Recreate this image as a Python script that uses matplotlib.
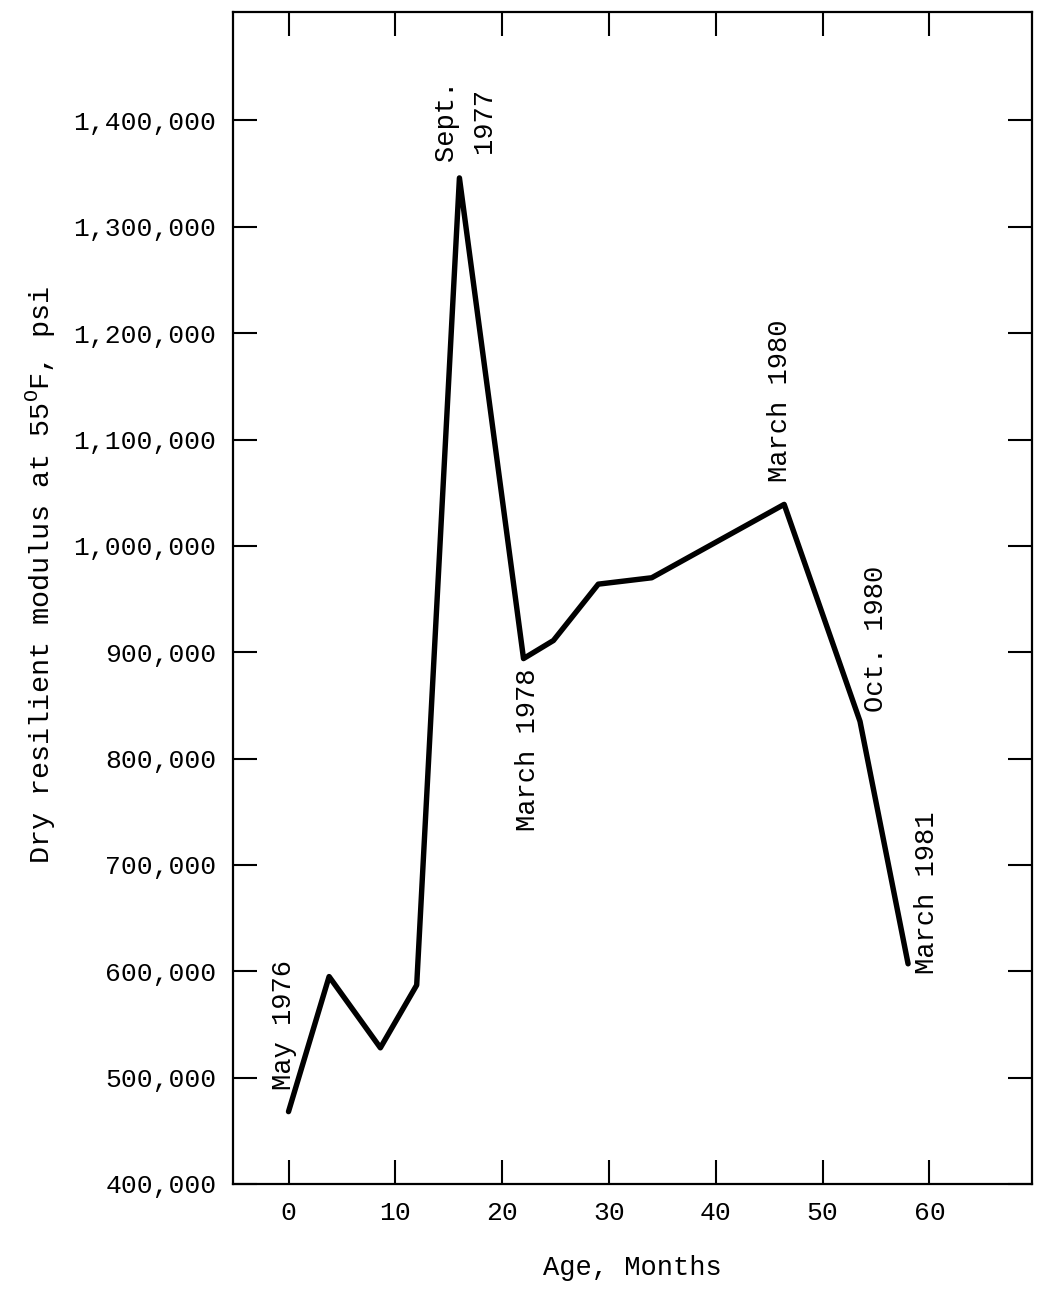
import matplotlib
matplotlib.use("Agg")
import matplotlib.pyplot as plt
from matplotlib.ticker import FuncFormatter

plt.rcParams["font.family"] = ["Liberation Mono", "DejaVu Sans Mono"]
plt.rcParams["mathtext.fontset"] = "custom"
plt.rcParams["mathtext.rm"] = "Liberation Mono"

# Age of pavement (months) and dry resilient modulus at 55 F (psi)
age_months = [0, 3.8, 8.6, 12.0, 16.0, 22.0, 24.8, 29.0, 34.0, 46.4, 53.5, 58.0]
modulus_psi = [468000, 595000, 528000, 587000, 1346000, 894000, 911000,
               964000, 970000, 1039000, 835000, 607000]

x_ticks = [0, 10, 20, 30, 40, 50, 60]
y_ticks = [400000, 500000, 600000, 700000, 800000, 900000, 1000000,
           1100000, 1200000, 1300000, 1400000]

# date annotations: (text, x, y) in data coordinates
annotations = [
    ("May 1976", -0.4, 549000),
    ("Sept.\n1977", 16.5, 1400000),
    ("March 1978", 22.4, 808000),
    ("March 1980", 46.0, 1136000),
    ("Oct. 1980", 55.0, 913000),
    ("March 1981", 59.8, 674000),
]

fig = plt.figure(figsize=(10.4, 12.89), dpi=100)
ax = fig.add_axes([0.224, 0.0815, 0.7683, 0.9092])

ax.plot(age_months, modulus_psi, color="black", linewidth=3.9,
        solid_joinstyle="round", solid_capstyle="round")

ax.set_xlim(-5.2, 69.6)
ax.set_ylim(400000, 1502000)
ax.set_xticks(x_ticks)
ax.set_yticks(y_ticks)
ax.yaxis.set_major_formatter(FuncFormatter(lambda v, p: f"{int(v):,}"))

ax.tick_params(direction="in", length=17, width=1.5, labelsize=19,
               top=True, right=True, pad=12)
for s in ax.spines.values():
    s.set_linewidth(1.6)

ax.set_xlabel("Age, Months", fontsize=19.5, labelpad=22)
ax.set_ylabel("Dry resilient modulus at 55$^{\\mathrm{O}}$F, psi",
              fontsize=20.5)
ax.yaxis.set_label_coords(-0.219, 0.52)

for text, x, y in annotations:
    ax.text(x, y, text, rotation=90, fontsize=19.5, ha="center", va="center",
            linespacing=1.6)

fig.savefig("out.png", dpi=100)
